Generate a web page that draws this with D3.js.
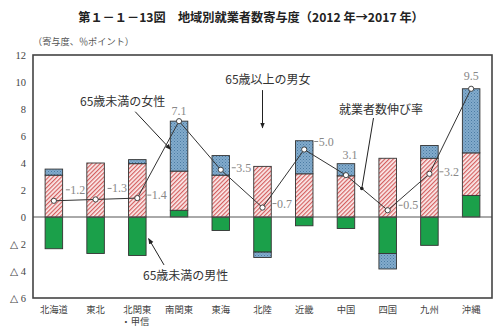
<!DOCTYPE html>
<html><head><meta charset="utf-8">
<script src="https://cdn.jsdelivr.net/npm/d3@7"></script>
<style>
html,body{margin:0;padding:0;background:#fff;}
svg{display:block;}
</style></head>
<body>
<svg id="chart" width="500" height="328"></svg>
<script>
// ---- data ----
const categories = ["北海道","東北","北関東・甲信","南関東","東海","北陸","近畿","中国","四国","九州","沖縄"];
const maleUnder65   = [-2.35,-2.7,-2.85, 0.5,-1.0,-2.6,-0.65,-0.85,-2.7,-2.1, 1.6];
const femaleUnder65 = [ 3.1, 4.0, 3.95, 2.9, 3.1, 3.75, 3.2, 3.05, 4.35, 4.35, 3.15];
const over65        = [ 0.45, 0.0, 0.3, 3.7, 1.45,-0.4, 2.45, 0.9,-1.15, 0.95, 4.75];
const growthRate    = [1.2, 1.3, 1.4, 7.1, 3.5, 0.7, 5.0, 3.1, 0.5, 3.2, 9.5];
const yTicks = [12,10,8,6,4,2,0,-2,-4,-6];
const tickText = v => v < 0 ? "△ " + (-v) : String(v);
const seriesKeys = ["male","female","over"];

const title = "第１－１－13図　地域別就業者数寄与度（2012 年→2017 年）";
const unitLabel = "（寄与度、％ポイント）";

// ---- layout ----
const svg = d3.select("#chart");
const L = 33, R = 492, T = 55, B = 298;
const x = d3.scaleBand().domain(categories).range([L, R]).paddingInner(0.58).paddingOuter(0.29);
const y = d3.scaleLinear().domain([-6, 12]).range([B, T]);
const cx = (i, f=0) => x(categories[i]) + x.bandwidth()/2 + f * x.step();

const serif = "'Liberation Serif','DejaVu Serif',serif";
const jp = "'Noto Sans CJK JP','Noto Sans CJK SC',sans-serif";

// patterns
const defs = svg.append("defs");
const pp = defs.append("pattern").attr("id","pinkHatch").attr("patternUnits","userSpaceOnUse")
  .attr("width",3).attr("height",3).attr("patternTransform","rotate(45)");
pp.append("rect").attr("width",3).attr("height",3).attr("fill","#fbecec");
pp.append("rect").attr("width",1.2).attr("height",3).attr("fill","#d45f5f");
const bp = defs.append("pattern").attr("id","blueDots").attr("patternUnits","userSpaceOnUse")
  .attr("width",3).attr("height",3);
bp.append("rect").attr("width",3).attr("height",3).attr("fill","#82abcc");
bp.append("rect").attr("x",0).attr("y",0).attr("width",1).attr("height",1).attr("fill","#4b7ba3");
bp.append("rect").attr("x",1.5).attr("y",1.5).attr("width",1).attr("height",1).attr("fill","#5986ad");

const fills = {male:"#1ba04a", female:"url(#pinkHatch)", over:"url(#blueDots)"};

// title
svg.append("text").attr("x",251).attr("y",22).attr("text-anchor","middle")
  .attr("font-family",jp).attr("font-weight","bold").attr("font-size",12.2).attr("fill","#222")
  .text(title);
svg.append("text").attr("x",33).attr("y",45).attr("font-family",jp).attr("font-size",9.2)
  .attr("fill","#555").text(unitLabel);

// y tick labels
svg.append("g").selectAll("text").data(yTicks).join("text")
  .attr("x",26).attr("y",d=>y(d)+3.5).attr("text-anchor","end")
  .attr("font-family",serif).attr("font-size",10.5).attr("fill","#444")
  .text(tickText);

// stacked bars
const table = categories.map((c,i)=>({cat:c, male:maleUnder65[i], female:femaleUnder65[i], over:over65[i]}));
const stack = d3.stack().keys(seriesKeys).offset(d3.stackOffsetDiverging)(table);
const gBars = svg.append("g");
stack.forEach(s=>{
  gBars.selectAll(null).data(s.filter(d=>d[1]!==d[0])).join("rect")
    .attr("x",d=>x(d.data.cat)).attr("width",x.bandwidth())
    .attr("y",d=>y(Math.max(d[0],d[1]))).attr("height",d=>Math.abs(y(d[0])-y(d[1])))
    .attr("fill",fills[s.key]).attr("stroke","#333").attr("stroke-width",0.9);
});

// zero line
svg.append("line").attr("x1",L).attr("x2",R).attr("y1",y(0)).attr("y2",y(0))
  .attr("stroke","#555").attr("stroke-width",1);

// frame
svg.append("rect").attr("x",L).attr("y",T).attr("width",R-L).attr("height",B-T)
  .attr("fill","none").attr("stroke","#444").attr("stroke-width",1.6);

// category labels
const gCat = svg.append("g");
categories.forEach((c,i)=>{
  const parts = c.includes("・") ? [c.split("・")[0], "・" + c.split("・")[1]] : [c];
  parts.forEach((p,k)=>{
    gCat.append("text").attr("x",cx(i) + (k===1?-2:0)).attr("y",312.5 + k*12.5).attr("text-anchor","middle")
      .attr("font-family",jp).attr("font-size",9.3).attr("fill","#444").text(p);
  });
});

// growth line
const line = d3.line().x((d,i)=>cx(i)).y(d=>y(d));
svg.append("path").datum(growthRate).attr("d",line).attr("fill","none")
  .attr("stroke","#333").attr("stroke-width",1);
svg.append("g").selectAll("circle").data(growthRate).join("circle")
  .attr("cx",(d,i)=>cx(i)).attr("cy",d=>y(d)).attr("r",2.6)
  .attr("fill","#fff").attr("stroke","#333").attr("stroke-width",0.9);

// value labels: placement (side: "r" = dash + text to the right, "a" = above)
const labelPlace = [
  {s:"r", dx:12, dy:-11},{s:"r", dx:12, dy:-11},{s:"r", dx:10, dy:-3},
  {s:"a", dx:0, dy:-10},{s:"r", dx:11, dy:-2},{s:"r", dx:10, dy:-4},
  {s:"r", dx:10, dy:-8},{s:"a", dx:4, dy:-20},{s:"r", dx:11, dy:-5},
  {s:"r", dx:10, dy:-2},{s:"a", dx:0, dy:-13}
];
const gLab = svg.append("g");
growthRate.forEach((v,i)=>{
  const p = labelPlace[i], px = cx(i)+p.dx, py = y(v)+p.dy;
  if (p.s === "r") {
    gLab.append("line").attr("x1",px).attr("x2",px+4).attr("y1",py).attr("y2",py)
      .attr("stroke","#888").attr("stroke-width",1);
    gLab.append("text").attr("x",px+4.5).attr("y",py+4).attr("font-family",serif)
      .attr("font-size",12).attr("fill","#888").text(v.toFixed(1));
  } else {
    gLab.append("text").attr("x",px).attr("y",py+4).attr("text-anchor","middle").attr("font-family",serif)
      .attr("font-size",12).attr("fill","#888").text(v.toFixed(1));
  }
});

// annotations
defs.append("marker").attr("id","arr").attr("viewBox","0 0 10 10").attr("refX",9).attr("refY",5)
  .attr("markerWidth",6).attr("markerHeight",6).attr("orient","auto-start-reverse")
  .append("path").attr("d","M0,1 L10,5 L0,9 Z").attr("fill","#222");
const annText = (t, ax, ay) => svg.append("text").attr("x",ax).attr("y",ay+4.5).attr("text-anchor","middle")
  .attr("font-family",jp).attr("font-size",12).attr("fill","#333").text(t);
const annLine = (x1,y1,x2,y2,arrow=true) => svg.append("line").attr("x1",x1).attr("y1",y1).attr("x2",x2).attr("y2",y2)
  .attr("stroke","#222").attr("stroke-width",1).attr("marker-end", arrow ? "url(#arr)" : null);

annText("65歳未満の女性", cx(1,0.65), y(8.55));
annLine(cx(2,-0.05), y(7.8), cx(3,-0.2), y(5.0));
annText("65歳以上の男女", cx(5,0.13), y(10.15));
annLine(cx(5,0), y(9.4), cx(5,0), y(6.6));
annText("就業者数伸び率", cx(8,-0.16), y(7.93));
{
  const t = 0.38;
  const ex = cx(7) + t*(cx(8)-cx(7)), ey = y(growthRate[7]) + t*(y(growthRate[8])-y(growthRate[7]));
  annLine(cx(8,-0.34), y(7.33), ex, ey, false);
  svg.append("circle").attr("cx",ex).attr("cy",ey).attr("r",1.8).attr("fill","#222");
}
annText("65歳未満の男性", cx(3,0.16), y(-4.35));
annLine(cx(3,-0.36), y(-3.55), cx(2,0.27), y(-1.6));
</script>
</body></html>
